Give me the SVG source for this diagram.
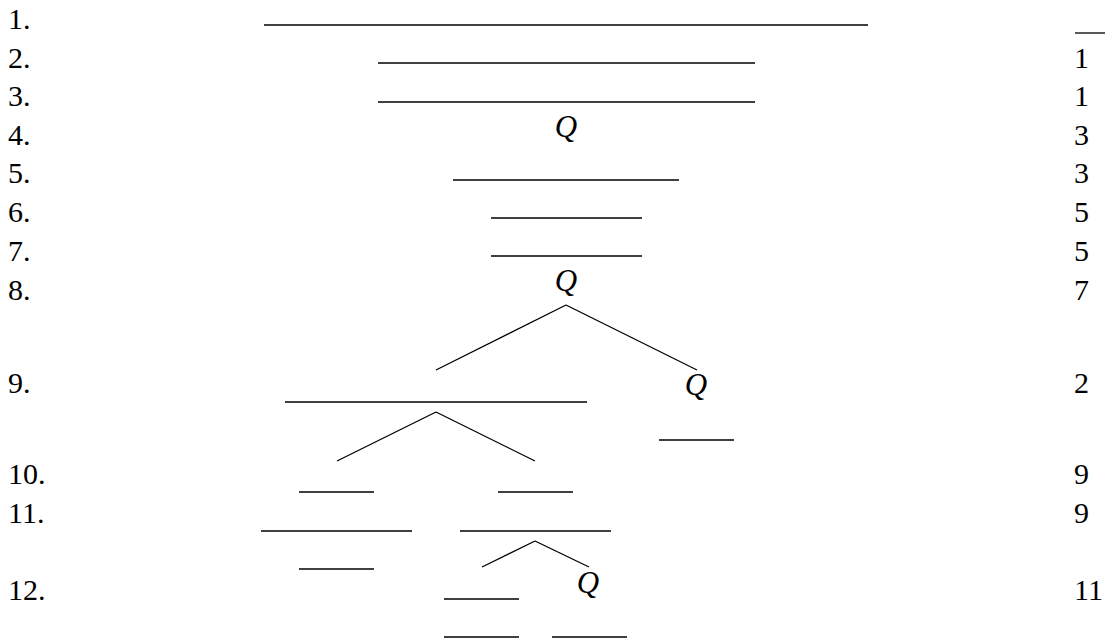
<svg xmlns="http://www.w3.org/2000/svg" width="1105" height="639" viewBox="0 0 1105 639">
<style>
text{font-family:"Liberation Serif","DejaVu Serif",serif;font-size:30px;fill:#000}
.q{font-style:italic;font-size:31px}
line{stroke:#000;stroke-width:1.3}
</style>
<rect width="1105" height="639" fill="#fff"/>
<g id="row-numbers">
<text x="8" y="29">1.</text>
<text x="8" y="68">2.</text>
<text x="8" y="106">3.</text>
<text x="8" y="145">4.</text>
<text x="8" y="183">5.</text>
<text x="8" y="222">6.</text>
<text x="8" y="261">7.</text>
<text x="8" y="300">8.</text>
<text x="8" y="393">9.</text>
<text x="8" y="484">10.</text>
<text x="8" y="523">11.</text>
<text x="8" y="600">12.</text>
</g>
<g id="justifications">
<line x1="1075" y1="33" x2="1105" y2="33"/>
<text x="1074" y="68">1</text>
<text x="1074" y="106">1</text>
<text x="1074" y="145">3</text>
<text x="1074" y="183">3</text>
<text x="1074" y="222">5</text>
<text x="1074" y="261">5</text>
<text x="1074" y="300">7</text>
<text x="1074" y="393">2</text>
<text x="1074" y="484">9</text>
<text x="1074" y="523">9</text>
<text x="1074" y="600">11</text>
</g>
<g id="formulas">
<text class="q" x="566" y="137" text-anchor="middle">Q</text>
<text class="q" x="566" y="291" text-anchor="middle">Q</text>
<text class="q" x="696" y="395" text-anchor="middle">Q</text>
<text class="q" x="588" y="593" text-anchor="middle">Q</text>
</g>
<g id="connectors">
<line x1="264" y1="25" x2="868" y2="25"/>
<line x1="378" y1="63" x2="755" y2="63"/>
<line x1="378" y1="102" x2="755" y2="102"/>
<line x1="453" y1="180" x2="679" y2="180"/>
<line x1="491" y1="218" x2="642" y2="218"/>
<line x1="491" y1="256" x2="642" y2="256"/>
<line x1="436" y1="370" x2="566" y2="305"/>
<line x1="566" y1="305" x2="697" y2="370"/>
<line x1="285" y1="402" x2="587" y2="402"/>
<line x1="659" y1="440" x2="734" y2="440"/>
<line x1="337" y1="461" x2="436" y2="412"/>
<line x1="436" y1="412" x2="535" y2="461"/>
<line x1="299" y1="492" x2="374" y2="492"/>
<line x1="498" y1="492" x2="573" y2="492"/>
<line x1="261" y1="531" x2="412" y2="531"/>
<line x1="460" y1="531" x2="611" y2="531"/>
<line x1="299" y1="569" x2="374" y2="569"/>
<line x1="482" y1="567" x2="535" y2="541"/>
<line x1="535" y1="541" x2="589" y2="567"/>
<line x1="444" y1="599" x2="519" y2="599"/>
<line x1="444" y1="637" x2="519" y2="637"/>
<line x1="552" y1="637" x2="627" y2="637"/>
</g>
</svg>
